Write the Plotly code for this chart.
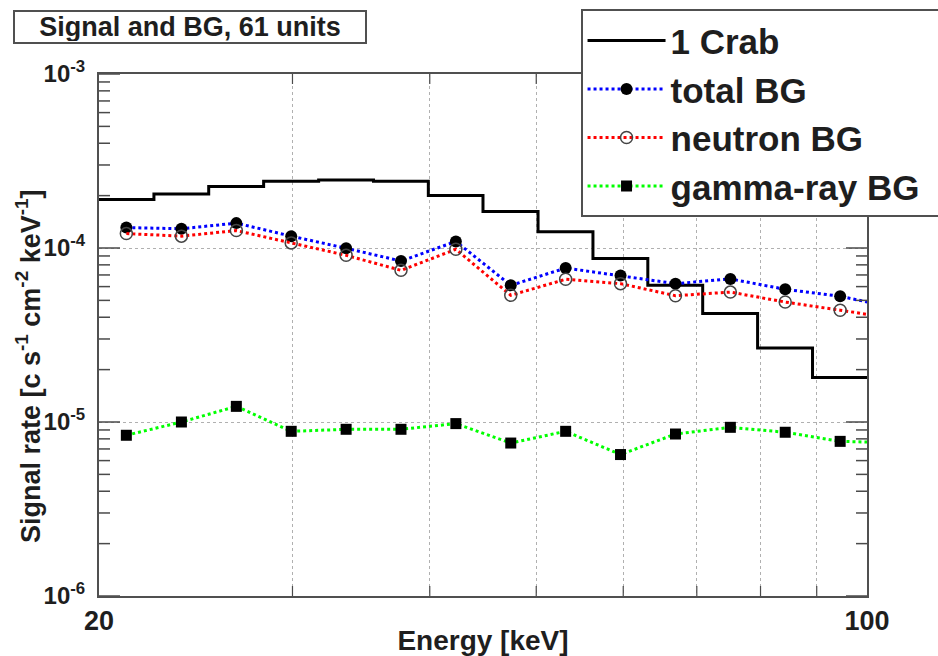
import plotly.graph_objects as go

# Energy binning (keV): 14 logarithmic bins between 20 and 100 keV
energy_edges = [20.0, 22.44, 25.17, 28.24, 31.69, 35.55, 39.88, 44.72,
                50.19, 56.31, 63.17, 70.87, 79.51, 89.21, 100.0]
# Bin centres; the last one lies just beyond the plotted range
energy_centers = [21.18, 23.77, 26.67, 29.92, 33.57, 37.66, 42.25, 47.40,
                  53.18, 59.66, 66.94, 75.10, 84.25, 94.53, 106.05]

# Rates in c s^-1 cm^-2 keV^-1
crab_rate = [1.90e-4, 2.04e-4, 2.26e-4, 2.42e-4, 2.46e-4, 2.42e-4, 2.00e-4,
             1.62e-4, 1.24e-4, 8.70e-5, 6.10e-5, 4.20e-5, 2.66e-5, 1.80e-5]
total_bg = [1.31e-4, 1.29e-4, 1.39e-4, 1.17e-4, 9.96e-5, 8.42e-5, 1.09e-4,
            6.10e-5, 7.67e-5, 6.94e-5, 6.24e-5, 6.64e-5, 5.79e-5, 5.28e-5, 4.53e-5]
neutron_bg = [1.21e-4, 1.17e-4, 1.26e-4, 1.07e-4, 9.08e-5, 7.44e-5, 9.83e-5,
              5.35e-5, 6.61e-5, 6.24e-5, 5.32e-5, 5.58e-5, 4.89e-5, 4.39e-5, 3.93e-5]
gamma_bg = [8.39e-6, 1.00e-5, 1.23e-5, 8.84e-6, 9.08e-6, 9.08e-6, 9.79e-6,
            7.57e-6, 8.84e-6, 6.50e-6, 8.53e-6, 9.32e-6, 8.73e-6, 7.74e-6, 7.60e-6]

x_ticks = [20, 30, 40, 50, 60, 70, 80, 90, 100]
x_ticktext = ["20", " ", " ", " ", " ", " ", " ", " ", "100"]
y_ticks = [1e-6, 1e-5, 1e-4, 1e-3]
y_ticktext = ["10<sup>-6</sup>", "10<sup>-5</sup>", "10<sup>-4</sup>", "10<sup>-3</sup>"]
y_minor = [m * 10.0 ** e for e in (-6, -5, -4) for m in range(2, 10)]

FONT = "Liberation Sans, Arial, Helvetica, sans-serif"
TEXT_COLOR = "#1e1e1e"
AXIS_COLOR = "#505050"
TICK_COLOR = "#4a4a4a"
GRID_COLOR = "#b0b0b0"
NBSP = "\u00a0"

fig = go.Figure()

fig.add_trace(go.Scatter(
    x=energy_edges, y=crab_rate + [crab_rate[-1]],
    mode="lines", line=dict(color="black", width=3, shape="hv"),
    name="1 Crab",
))
fig.add_trace(go.Scatter(
    x=energy_centers, y=total_bg, mode="lines+markers",
    line=dict(color="#0000ff", width=3, dash="dot"),
    marker=dict(symbol="circle", size=12, color="black"),
    name="total BG",
))
fig.add_trace(go.Scatter(
    x=energy_centers, y=neutron_bg, mode="lines+markers",
    line=dict(color="#ff0000", width=3, dash="dot"),
    marker=dict(symbol="circle-open", size=12, color="#444444",
                line=dict(width=1.5, color="#444444")),
    name="neutron BG",
))
fig.add_trace(go.Scatter(
    x=energy_centers, y=gamma_bg, mode="lines+markers",
    line=dict(color="#00ff00", width=3, dash="dot"),
    marker=dict(symbol="square", size=11, color="black"),
    name="gamma-ray BG" + NBSP * 2,
))

fig.update_layout(
    template="none",
    xaxis=dict(
        type="log", range=[1.30103, 2.0], automargin=False,
        tickmode="array", tickvals=x_ticks, ticktext=x_ticktext,
        ticks="", ticklabelstandoff=0,
        showgrid=True, gridcolor=GRID_COLOR, griddash="dot", gridwidth=1,
        showline=True, linecolor=AXIS_COLOR, linewidth=2, mirror=True,
        zeroline=False,
        tickfont=dict(family=FONT, size=27, color=TEXT_COLOR, weight="bold"),
        title=dict(text="Energy [keV]", standoff=6,
                   font=dict(family=FONT, size=28, color=TEXT_COLOR, weight="bold")),
    ),
    yaxis=dict(
        type="log", range=[-6, -3], automargin=False,
        tickmode="array", tickvals=y_ticks, ticktext=y_ticktext,
        ticks="", ticklabelstandoff=7,
        showgrid=True, gridcolor=GRID_COLOR, griddash="dot", gridwidth=1,
        showline=True, linecolor=AXIS_COLOR, linewidth=2, mirror=True,
        zeroline=False,
        tickfont=dict(family=FONT, size=24, color=TEXT_COLOR, weight="bold"),
    ),
)

# Inside tick marks on all four sides of the frame, sized in pixels
tick_shapes = []
for vals, length in ((y_ticks, 21), (y_minor, 11)):
    for v in vals:
        for anchor, a, b in ((0, 0, length), (1, -length, 0)):
            tick_shapes.append(dict(
                type="line", xref="paper", yref="y", xsizemode="pixel",
                xanchor=anchor, x0=a, x1=b, y0=v, y1=v,
                line=dict(color=TICK_COLOR, width=1.5),
            ))
for v in x_ticks[1:-1]:
    for anchor, a, b in ((0, 0, 10), (1, -10, 0)):
        tick_shapes.append(dict(
            type="line", xref="x", yref="paper", ysizemode="pixel",
            yanchor=anchor, y0=a, y1=b, x0=v, x1=v,
            line=dict(color=TICK_COLOR, width=1.2),
        ))
fig.update_layout(shapes=tick_shapes)

# y-axis title, placed along the left margin
fig.add_annotation(
    text="Signal rate [c s<sup>-1</sup> cm<sup>-2</sup> keV<sup>-1</sup>]",
    xref="paper", yref="paper", x=-0.0915, y=0.44,
    xanchor="center", yanchor="middle", textangle=-90, showarrow=False,
    font=dict(family=FONT, size=27, color=TEXT_COLOR, weight="bold"),
)

# Boxed title
fig.add_annotation(
    text="Signal and BG, 61 units", xref="paper", yref="paper",
    x=-0.1124, y=1.122, xanchor="left", yanchor="top",
    showarrow=False, width=348, height=28, borderpad=1,
    bordercolor=AXIS_COLOR, borderwidth=2, bgcolor="white",
    font=dict(family=FONT, size=27, color=TEXT_COLOR, weight="bold"),
)

fig.update_layout(
    width=938, height=656,
    margin=dict(l=99, r=71, t=74, b=60, autoexpand=False),
    paper_bgcolor="white", plot_bgcolor="white",
    showlegend=True,
    legend=dict(
        x=0.627, y=1.124, xanchor="left", yanchor="top",
        bgcolor="white", bordercolor=AXIS_COLOR, borderwidth=2,
        itemwidth=78, tracegroupgap=0,
        font=dict(family=FONT, size=35, color=TEXT_COLOR, weight="bold"),
    ),
)

fig.write_html("out.html")
